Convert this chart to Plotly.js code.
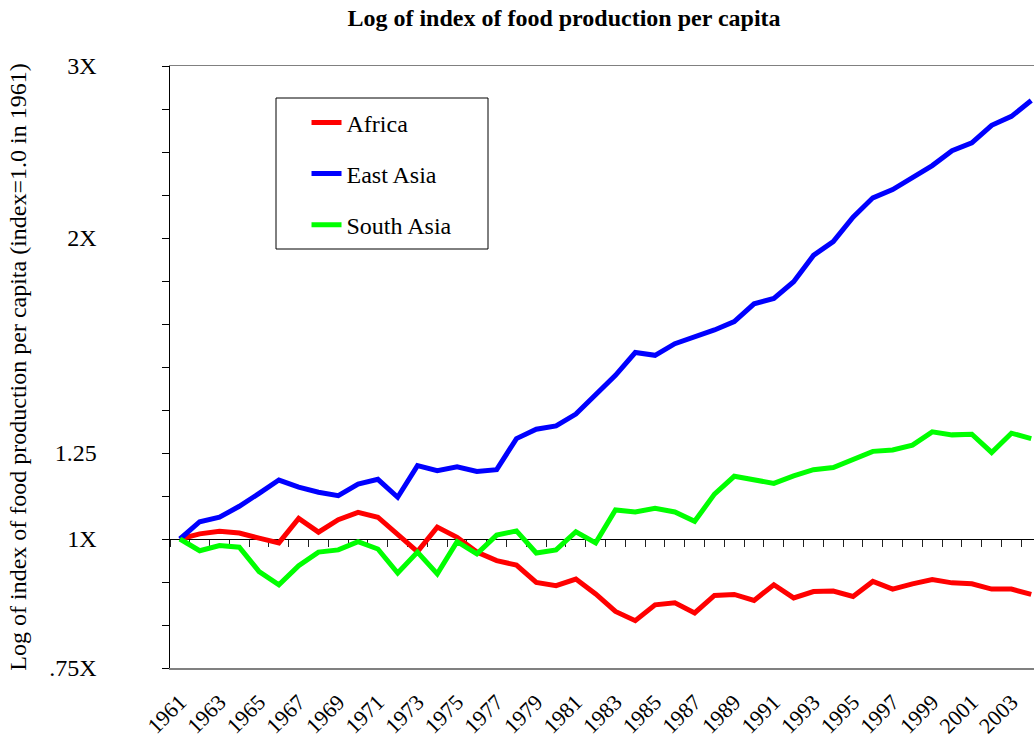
<!DOCTYPE html>
<html>
<head>
<meta charset="utf-8">
<script src="https://cdn.plot.ly/plotly-3.0.1.min.js"></script>
<style>html,body{margin:0;padding:0;background:#fff;}#chart{width:1034px;height:740px;}</style>
</head>
<body>
<div id="chart"></div>
<script>
// ---- data (index of food production per capita, 1961 = 1.0) ----
var years = [1961,1962,1963,1964,1965,1966,1967,1968,1969,1970,1971,1972,1973,1974,1975,1976,1977,1978,1979,1980,1981,1982,1983,1984,1985,1986,1987,1988,1989,1990,1991,1992,1993,1994,1995,1996,1997,1998,1999,2000,2001,2002,2003,2004];
var africa = [1.000,1.012,1.018,1.014,1.002,0.991,1.049,1.016,1.046,1.064,1.052,1.012,0.971,1.028,1.004,0.970,0.951,0.941,0.904,0.897,0.911,0.880,0.845,0.827,0.858,0.862,0.842,0.877,0.879,0.867,0.899,0.872,0.885,0.886,0.875,0.906,0.890,0.901,0.910,0.903,0.901,0.890,0.890,0.879];
var eastAsia = [1.000,1.041,1.052,1.079,1.112,1.147,1.128,1.115,1.106,1.136,1.149,1.102,1.186,1.172,1.183,1.170,1.175,1.263,1.291,1.301,1.337,1.397,1.463,1.543,1.533,1.575,1.601,1.626,1.658,1.728,1.750,1.819,1.934,1.997,2.114,2.211,2.254,2.319,2.383,2.467,2.512,2.617,2.672,2.773];
var southAsia = [1.000,0.973,0.985,0.981,0.927,0.899,0.940,0.970,0.975,0.994,0.977,0.924,0.970,0.922,0.994,0.966,1.009,1.019,0.968,0.975,1.017,0.991,1.070,1.065,1.074,1.065,1.042,1.110,1.157,1.148,1.138,1.158,1.175,1.181,1.204,1.226,1.230,1.244,1.283,1.274,1.276,1.223,1.279,1.263];
var seriesNames = ["Africa","East Asia","South Asia"];
var seriesColors = ["#FF0000","#0000FF","#00FF00"];

// y-axis ticks: axis is linear in natural log of index, ticks every 0.1
var yTickLn = [-0.3,-0.2,-0.1,0,0.1,0.2,0.3,0.4,0.5,0.6,0.7,0.8,0.9,1.0,1.1];
var yTickText = [".75X","","","1X","","1.25","","","","","2X","","","","3X"];
// x-axis labels every other year
var xTickYears = [1961,1963,1965,1967,1969,1971,1973,1975,1977,1979,1981,1983,1985,1987,1989,1991,1993,1995,1997,1999,2001,2003];

var FONT = "Liberation Serif, 'Times New Roman', Times, serif";
var yLnMin = -0.3, yLnMax = 1.1;
var yRange = [Math.log10(Math.exp(yLnMin)), Math.log10(Math.exp(yLnMax))];
var xRange = [years[0]-0.5, years[0]+43.14];
var baselinePos = (0 - yLnMin) / (yLnMax - yLnMin);

var seriesData = [africa, eastAsia, southAsia];
var traces = seriesData.map(function(vals, i){
  return {
    x: years, y: vals, type: 'scatter', mode: 'lines',
    name: seriesNames[i], legendgroup: 'g'+i,
    line: {color: seriesColors[i], width: 5},
    hoverinfo: 'x+y+name'
  };
});
// invisible carrier trace so the baseline axis (at 1X) is drawn
traces.push({x: years, y: africa, xaxis: 'x2', yaxis: 'y', mode: 'lines',
  line: {width: 0, color: 'rgba(0,0,0,0)'}, showlegend: false, hoverinfo: 'skip'});

var boundaries = years.map(function(y){ return y - 0.5; });

var layout = {
  width: 1034, height: 740,
  margin: {l: 170, r: 0, t: 66, b: 72},
  paper_bgcolor: '#fff', plot_bgcolor: '#fff',
  font: {family: FONT, size: 24, color: '#000'},
  title: {text: 'Log of index of food production per capita',
    font: {family: FONT, size: 24, color: '#000', weight: 'bold'},
    xref: 'paper', x: 0.456, xanchor: 'center',
    yref: 'container', y: 1 - 18/740, yanchor: 'middle'},
  showlegend: true,
  legend: {x: 0.158, xanchor: 'left', y: 0.943, yanchor: 'top',
    bgcolor: 'rgba(0,0,0,0)', borderwidth: 0,
    font: {family: FONT, size: 24, color: '#000'},
    tracegroupgap: 17, traceorder: 'grouped'},
  xaxis: {
    type: 'linear', range: xRange,
    tickmode: 'array', tickvals: xTickYears, ticktext: xTickYears.map(String),
    tickangle: -45, ticks: '', ticklabelstandoff: 11,
    tickfont: {family: FONT, size: 22, color: '#000'},
    showgrid: false, zeroline: false,
    showline: true, mirror: true, linecolor: '#808080', linewidth: 1.5
  },
  xaxis2: {
    type: 'linear', range: xRange, overlaying: 'x', anchor: 'free', position: baselinePos,
    tickmode: 'array', tickvals: boundaries, ticks: 'outside', ticklen: 7, tickwidth: 1, tickcolor: '#222',
    showticklabels: false, showgrid: false, zeroline: false,
    showline: true, linecolor: '#000', linewidth: 1.2, layer: 'below traces'
  },
  yaxis: {
    type: 'log', range: yRange,
    tickmode: 'array', tickvals: yTickLn.map(function(v){ return Math.exp(v); }), ticktext: yTickText,
    ticks: 'outside', ticklen: 7, tickwidth: 1, tickcolor: '#000',
    ticklabelstandoff: 60,
    tickfont: {family: FONT, size: 24, color: '#000'},
    showgrid: false, zeroline: false,
    showline: true, linecolor: '#000', linewidth: 1.5,
    title: {text: 'Log of index of food production per capita (index=1.0 in 1961)',
      font: {family: FONT, size: 24, color: '#000'}, standoff: 16}
  },
  shapes: [{type: 'rect', xref: 'paper', yref: 'paper',
    x0: (276-170)/864, x1: (488-170)/864, y0: (668-249)/602, y1: (668-98)/602,
    line: {color: '#000', width: 1}, fillcolor: 'rgba(0,0,0,0)', layer: 'above'}]
};

Plotly.newPlot('chart', traces, layout, {displayModeBar: false, staticPlot: true});
</script>
</body>
</html>
